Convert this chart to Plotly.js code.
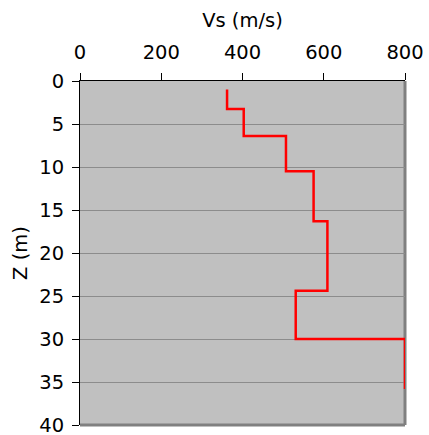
<!DOCTYPE html>
<html><head><meta charset="utf-8">
<script src="https://cdn.plot.ly/plotly-3.0.1.min.js"></script>
<style>body{margin:0;padding:0;background:#fff}#c{width:429px;height:435px}</style>
</head><body><div id="c"></div>
<script>
var vs    = [362, 362, 403, 403, 507, 507, 575, 575, 609, 609, 531, 531, 800, 800];
var depth = [1.0, 3.25, 3.25, 6.4, 6.4, 10.5, 10.5, 16.3, 16.3, 24.4, 24.4, 30.0, 30.0, 35.8];
var xTicks = [0, 200, 400, 600, 800];
var yTicks = [0, 5, 10, 15, 20, 25, 30, 35, 40];

var font = {family: 'DejaVu Sans, Verdana, sans-serif', size: 19.5, color: '#000'};
Plotly.newPlot('c', [{
  x: vs, y: depth, type: 'scatter', mode: 'lines',
  line: {color: '#ff0000', width: 2.5}, hoverinfo: 'none', cliponaxis: false
}], {
  width: 429, height: 435,
  margin: {l: 80, r: 24, t: 81, b: 10},
  paper_bgcolor: '#ffffff', plot_bgcolor: '#c0c0c0',
  showlegend: false,
  font: font,
  xaxis: {
    side: 'top', range: [0, 800], tickvals: xTicks, ticktext: xTicks.map(String),
    showgrid: false, zeroline: false, showline: true, linecolor: '#000', linewidth: 1,
    ticks: 'outside', ticklen: 7, tickcolor: '#000', tickfont: font,
    ticklabeloverflow: 'allow', ticklabelstandoff: 6,
    title: {text: 'Vs (m/s)', font: font, standoff: 8}
  },
  yaxis: {
    range: [40, 0], tickvals: yTicks, ticktext: yTicks.map(String),
    showgrid: true, gridcolor: '#8c8c8c', gridwidth: 1, zeroline: false,
    showline: true, linecolor: '#000', linewidth: 1,
    ticks: 'outside', ticklen: 7, tickcolor: '#000', tickfont: font,
    ticklabeloverflow: 'allow', ticklabelstandoff: 4,
    title: {text: 'Z (m)', font: font, standoff: 6}
  },
  shapes: [
    {type: 'line', layer: 'below', xref: 'paper', yref: 'paper', x0: 1, x1: 1, y0: 0, y1: 1, line: {color: '#808080', width: 3}},
    {type: 'line', layer: 'below', xref: 'paper', yref: 'paper', x0: 0, x1: 1, y0: 0, y1: 0, line: {color: '#808080', width: 3}}
  ]
}, {displayModeBar: false, staticPlot: true});
</script></body></html>
